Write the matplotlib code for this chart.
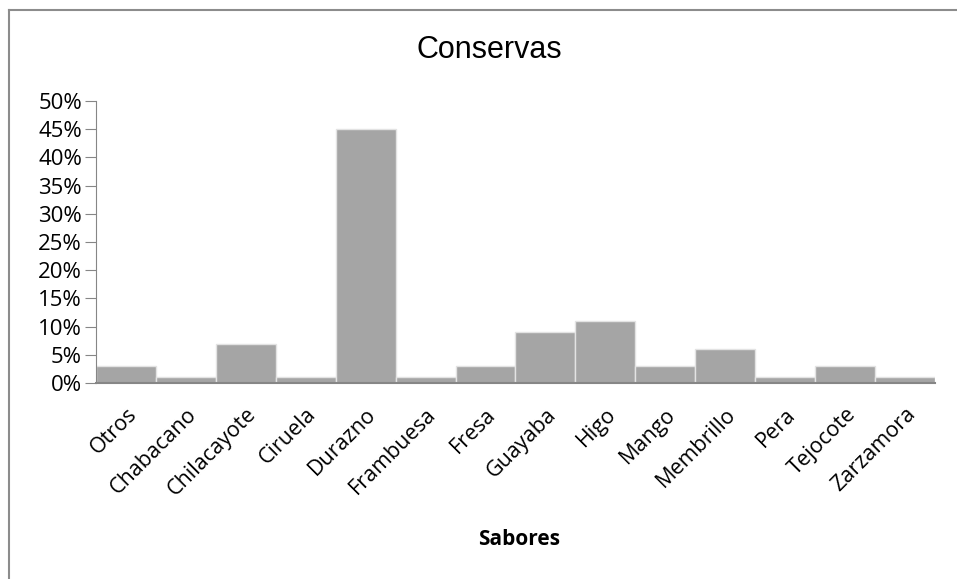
import matplotlib.pyplot as plt
from matplotlib.lines import Line2D
from matplotlib.ticker import PercentFormatter
from matplotlib.transforms import ScaledTranslation

sabores = ['Otros', 'Chabacano', 'Chilacayote', 'Ciruela', 'Durazno', 'Frambuesa',
           'Fresa', 'Guayaba', 'Higo', 'Mango', 'Membrillo', 'Pera', 'Tejocote',
           'Zarzamora']
porcentajes = [0.03, 0.01, 0.07, 0.01, 0.45, 0.01, 0.03, 0.09, 0.11, 0.03, 0.06,
               0.01, 0.03, 0.01]
yticks = [0, 0.05, 0.10, 0.15, 0.20, 0.25, 0.30, 0.35, 0.40, 0.45, 0.50]

fig = plt.figure(figsize=(9.57, 5.79), dpi=100)
ax = fig.add_axes([0.1003, 0.3385, 0.8767, 0.4871])

x = range(len(sabores))
ax.bar(x, porcentajes, width=1.0, color='#A5A5A5', edgecolor='#E3E3E3', linewidth=1)

ax.set_xlim(-0.5, len(sabores) - 0.5)
ax.set_ylim(0, 0.5)
ax.set_yticks(yticks)
ax.yaxis.set_major_formatter(PercentFormatter(1.0, decimals=0))
ax.set_xticks(list(x))
ax.set_xticklabels(sabores, rotation=45, ha='right', va='top', rotation_mode='anchor',
                   family='Open Sans', fontsize=15.5)
# nudge the slanted labels a little to the left
shift = ScaledTranslation(-5 / 72, 0, fig.dpi_scale_trans)
for lbl in ax.get_xticklabels():
    lbl.set_transform(lbl.get_transform() + shift)
for lbl in ax.get_yticklabels():
    lbl.set_family('Open Sans')
    lbl.set_fontsize(16)

for s in ['top', 'right']:
    ax.spines[s].set_visible(False)
ax.spines['left'].set_color('#868686')
ax.spines['bottom'].set_color('#868686')
ax.spines['bottom'].set_linewidth(1.5)
ax.tick_params(axis='y', length=8, color='#868686', pad=2)
ax.tick_params(axis='x', length=0, pad=15)

fig.text(0.511, 0.913, 'Conservas', ha='center', va='center',
         family='Liberation Sans', fontsize=22)
fig.text(0.542, 0.068, 'Sabores', ha='center', va='center',
         family='Open Sans', fontweight='bold', fontsize=15)

# chart area border (top and left edges)
fig.add_artist(Line2D([0.0092, 1.0], [0.983, 0.983], color='#8C8C8C', lw=1.5))
fig.add_artist(Line2D([0.0092, 0.0092], [0.0, 0.983], color='#8C8C8C', lw=1.5))

fig.savefig('out.png', dpi=100)
